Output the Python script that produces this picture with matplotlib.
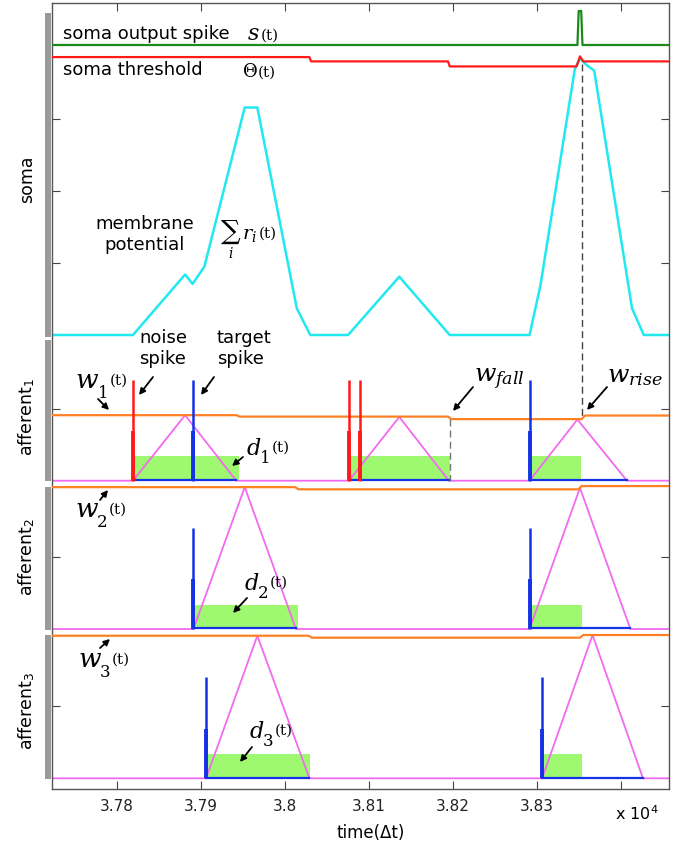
import numpy as np
import matplotlib
matplotlib.use('Agg')
import matplotlib.pyplot as plt
from matplotlib.patches import Rectangle, FancyArrowPatch

plt.rcParams['mathtext.fontset'] = 'dejavuserif'

# ---------------- data ----------------
x_ticks = [37800, 37900, 38000, 38100, 38200, 38300, 38400]
x_tick_labels = ['3.78', '3.79', '3.8', '3.81', '3.82', '3.83', '']

# soma membrane potential  sum_i r_i(t)
mem_t = [37722, 37819, 37881, 37890, 37904, 37952, 37967, 38014, 38030, 38075,
         38136, 38196, 38291, 38304, 38345, 38351, 38359, 38368, 38413, 38427, 38457]
mem_v = [0, 0, 0.84, 0.71, 0.95, 3.16, 3.16, 0.37, 0, 0,
         0.81, 0, 0, 0.69, 3.70, 3.84, 3.75, 3.67, 0.37, 0, 0]

# soma threshold Theta(t)
thr_t = [37722, 38029, 38031, 38194, 38196, 38347, 38351, 38355, 38457]
thr_v = [3.86, 3.86, 3.80, 3.80, 3.73, 3.73, 3.87, 3.80, 3.80]

# soma output spike s(t)
spk_t = [37722, 38348, 38349.5, 38352.5, 38354, 38457]
spk_v = [0, 0, 1, 1, 0, 0]
out_spike_time = 38354

# synaptic weights w_i(t)
w1_t = [37722, 37942, 37946, 38194, 38198, 38353, 38357, 38457]
w1_v = [0.91, 0.91, 0.89, 0.89, 0.855, 0.855, 0.905, 0.905]
w2_t = [37722, 38012, 38016, 38349, 38353, 38457]
w2_v = [1.97, 1.97, 1.94, 1.94, 1.985, 1.985]
w3_t = [37722, 38028, 38032, 38351, 38355, 38457]
w3_v = [1.98, 1.98, 1.953, 1.953, 1.99, 1.99]

# responses r_i(t): (start, peak time, end, peak value)
r1 = [(37819, 37881, 37942, 0.91), (38076, 38136, 38195, 0.885), (38291, 38348, 38407, 0.85)]
r2 = [(37891, 37952, 38013, 1.97), (38291, 38351, 38411, 1.96)]
r3 = [(37906, 37967, 38029, 1.98), (38306, 38366, 38426, 1.99)]

# d_i(t) windows (start, end)
d1 = [(37821, 37945), (38077, 38196), (38291, 38352)]
d2 = [(37893, 38015), (38293, 38354)]
d3 = [(37908, 38030), (38308, 38354)]
d_level = 0.34

# input spikes
noise1 = [37819.4, 38076, 38089]
target1 = [37891, 38291]
target2 = [37890.5, 38291]
target3 = [37906, 38305.6]
spike_h = 1.40
spike_low = 0.69

w_fall_time = 38196

# ---------------- layout ----------------
W, H = 687, 846
SOMA_BASE = 335.0
S_BASE, S_H = 45.0, 34.0
AFF_BASE = [480.7, 629.0, 778.3]
UNIT = 72.0
TMIN, TMAX = 37722.6, 38457

C_CYAN = '#22E8F0'
C_GREEN = '#1A8A1A'
C_RED = '#FF1A1A'
C_ORANGE = '#FF8022'
C_PINK = '#F26AF0'
C_BLUE = '#1432E6'
C_FILL = '#9EF870'
C_GRAY = '#9A9A9A'

fig = plt.figure(figsize=(W / 100, H / 100), dpi=100)
ax = fig.add_axes([52 / W, 1 - 789 / H, 617 / W, 786 / H])
ax.set_xlim(TMIN, TMAX)
ax.set_ylim(789, 3)


def sy(v):
    return SOMA_BASE - np.asarray(v, dtype=float) * UNIT


def ay(k, v):
    return AFF_BASE[k] - np.asarray(v, dtype=float) * UNIT


# soma
ax.plot(spk_t, S_BASE - np.asarray(spk_v) * S_H, color=C_GREEN, lw=1.6, zorder=3)
ax.plot(thr_t, sy(thr_v), color=C_RED, lw=1.6, zorder=3)
ax.plot(mem_t, sy(mem_v), color=C_CYAN, lw=1.8, zorder=2)

# afferents
w_list = [(w1_t, w1_v), (w2_t, w2_v), (w3_t, w3_v)]
r_list = [r1, r2, r3]
d_list = [d1, d2, d3]
t_list = [target1, target2, target3]
n_list = [noise1, [], []]

for k in range(3):
    for (s, e) in d_list[k]:
        ax.fill_between([s, e], ay(k, 0), ay(k, d_level), color=C_FILL, lw=0, zorder=1)
    rt, rv = [TMIN], [0]
    for (s, p, e, h) in r_list[k]:
        rt += [s, p, e]
        rv += [0, h, 0]
    rt.append(TMAX)
    rv.append(0)
    ax.plot(rt, ay(k, rv), color=C_PINK, lw=1.3, zorder=2)
    for (s, p, e, h) in r_list[k]:
        ax.plot([s, e], [ay(k, 0) - 0.5, ay(k, 0) - 0.5], color=C_BLUE, lw=1.6, zorder=3)
    wt, wv = w_list[k]
    ax.plot(wt, ay(k, wv), color=C_ORANGE, lw=1.6, zorder=3)
    for lst, col in ((n_list[k], C_RED), (t_list[k], C_BLUE)):
        for ts in lst:
            ax.plot([ts, ts], [ay(k, 0), ay(k, spike_h)], color=col, lw=1.8, zorder=4,
                    solid_capstyle='butt')
            ax.plot([ts, ts], [ay(k, 0), ay(k, spike_low)], color=col, lw=2.8, zorder=4,
                    solid_capstyle='butt')

# dashed guide lines
ax.plot([out_spike_time, out_spike_time], [sy(3.76), ay(0, 0.905)], color='#444444',
        lw=1.0, dashes=(5, 3), zorder=5)
ax.plot([w_fall_time, w_fall_time], [ay(0, 0.85), ay(0, 0)], color='#777777',
        lw=1.0, dashes=(5, 3), zorder=5)

# ticks / spines
ax.set_xticks(x_ticks)
ax.set_xticklabels(x_tick_labels, fontsize=11)
yt = [float(sy(1)), float(sy(2)), float(sy(3)), float(ay(0, 1)), float(ay(1, 1)), float(ay(2, 1))]
ax.set_yticks(yt)
ax.set_yticklabels([''] * len(yt))
ax.tick_params(direction='in', length=6, width=0.8, top=True, right=True,
               color='#444444', labelcolor='#222222', pad=7)
for sp in ax.spines.values():
    sp.set_color('#555555')
    sp.set_linewidth(1.0)

# gray panel bars
for (y0, y1) in [(13, 337), (340, 481), (487, 630), (635, 779)]:
    fig.add_artist(Rectangle((45 / W, 1 - y1 / H), 6 / W, (y1 - y0) / H,
                             transform=fig.transFigure, color=C_GRAY, lw=0))


# ---------------- text ----------------
def T(x, y, s, size=13, ha='left', va='baseline', **kw):
    fig.text(x / W, 1 - y / H, s, fontsize=size, ha=ha, va=va, **kw)


SERIF = 'DejaVu Serif'


def TS(x, y, s, size):
    T(x, y, s, size=size, family=SERIF)


def arrow(tail, head):
    fig.add_artist(FancyArrowPatch(
        (tail[0] / W, 1 - tail[1] / H), (head[0] / W, 1 - head[1] / H),
        transform=fig.transFigure, arrowstyle='-|>', mutation_scale=9,
        color='black', lw=1.3, shrinkA=0, shrinkB=0))


def var_label(x, y, sym, sub, size, sub_size, sub_drop, sub_dx, t_dx, t_rise):
    T(x, y, '$' + sym + '$', size=size)
    TS(x + sub_dx, y + sub_drop, sub, sub_size)
    TS(x + t_dx, y - t_rise, '(t)', 11)


T(63, 39, 'soma output spike')
T(247, 40, r'$s$', size=16)
TS(261, 40, '(t)', 11)
T(63, 75, 'soma threshold')
T(242, 77, r'$\Theta$', size=13)
TS(258, 77, '(t)', 11)

T(145, 229, 'membrane', ha='center')
T(145, 250, 'potential', ha='center')
T(220, 240, r'$\sum_i\, r_i$', size=14)
TS(259, 238, '(t)', 11)

T(163, 343, 'noise', ha='center')
T(163, 364, 'spike', ha='center')
T(244, 343, 'target', ha='center')
T(240, 364, 'spike', ha='center')
arrow((153, 377), (139, 395))
arrow((214, 377), (201, 395))

# weights  w_i(t)
var_label(75, 388, 'w', '1', 19, 12, 10, 23, 35, 3)
arrow((98, 399), (109, 410))
var_label(75, 517, 'w', '2', 19, 12, 10, 22, 34, 3)
arrow((100, 500), (108, 490))
var_label(78, 667, 'w', '3', 19, 12, 10, 22, 34, 3)
arrow((100, 648), (110, 639))

# d labels  d_i(t)
var_label(246, 455, 'd', '1', 16, 12, 8, 14, 26, 3)
arrow((243, 457), (232, 466))
var_label(244, 590, 'd', '2', 16, 12, 8, 14, 26, 3)
arrow((247, 598), (233, 613))
var_label(249, 738, 'd', '3', 16, 12, 8, 14, 26, 3)
arrow((252, 747), (240, 762))

# w_fall / w_rise
T(474, 382, r'$w_{fall}$', size=18)
arrow((473, 387), (453, 411))
T(607, 382, r'$w_{rise}$', size=18)
arrow((607, 387), (587, 410))

# y labels
T(27, 179, 'soma', size=12.5, ha='center', va='center', rotation=90)
T(27, 417, r'afferent$_\mathsf{1}$', size=12.5, ha='center', va='center', rotation=90)
T(27, 557, r'afferent$_\mathsf{2}$', size=12.5, ha='center', va='center', rotation=90)
T(27, 711, r'afferent$_\mathsf{3}$', size=12.5, ha='center', va='center', rotation=90)

# x label and exponent
T(371, 838, 'time(Δt)', size=12, ha='center')
T(615, 820, r'x 10$^\mathsf{4}$', size=11.5)

fig.savefig('out.png', dpi=100)
